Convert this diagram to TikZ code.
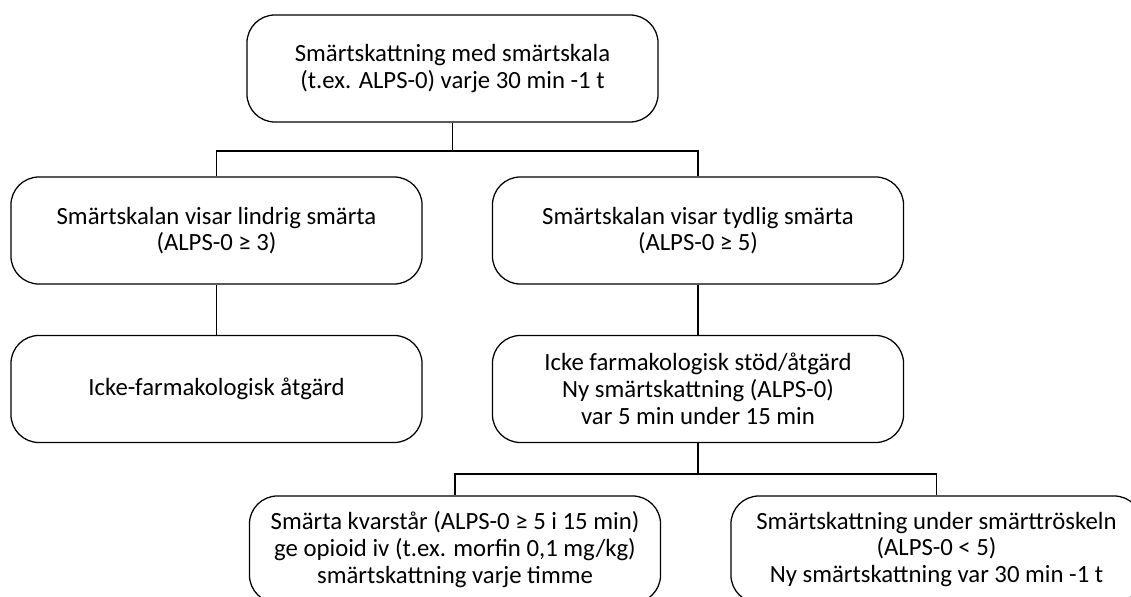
\documentclass[tikz,border=0pt]{standalone}
\usepackage{fontspec}
\setmainfont{Carlito}
\usepackage{tikz}
\usetikzlibrary{positioning,calc}
\tikzset{box/.style={draw=black, rounded corners=0.7cm, minimum width=10.275cm,
    minimum height=2.675cm, align=center, inner sep=0pt,
    font=\fontsize{17.6}{19}\selectfont}}

\begin{document}
\begin{tikzpicture}[x=0.025cm, y=-0.025cm, line width=0.9pt]
\useasboundingbox (0,0) rectangle (1131,597);
\clip (0,0) rectangle (1131,597);

\node[box] (top) at (452.5,68.5) {Smärtskattning med smärtskala\\(t.ex. ALPS-0) varje 30 min -1 t};

\node[box] (midL) at (216.5,230.5) {Smärtskalan visar lindrig smärta\\(ALPS-0 ≥ 3)};
\node[box] (midR) at (698,230.5) {Smärtskalan visar tydlig smärta\\(ALPS-0 ≥ 5)};

\node[box] (lowL) at (216.5,389) {Icke-farmakologisk åtgärd};
\node[box] (lowR) at (698,389) {Icke farmakologisk stöd/åtgärd\\Ny smärtskattning (ALPS-0)\\var 5 min under 15 min};

\node[box] (botL) at (455,549.5) {Smärta kvarstår (ALPS-0 ≥ 5 i 15 min)\\ge opioid iv (t.ex. morfin 0,1 mg/kg)\\smärtskattning varje timme};
\node[box] (botR) at (936.5,549.5) {Smärtskattning under smärttröskeln\\(ALPS-0 < 5)\\Ny smärtskattning var 30 min -1 t};

% connectors
\coordinate (split1) at (452.5,151);
\coordinate (split2) at (698,474);
\draw (top) -- (split1);
\draw (midL) |- (split1) -| (midR);
\draw (midL) -- (lowL);
\draw (midR) -- (lowR);
\draw (lowR) -- (split2);
\draw (botL) |- (split2) -| (botR);

\end{tikzpicture}
\end{document}
